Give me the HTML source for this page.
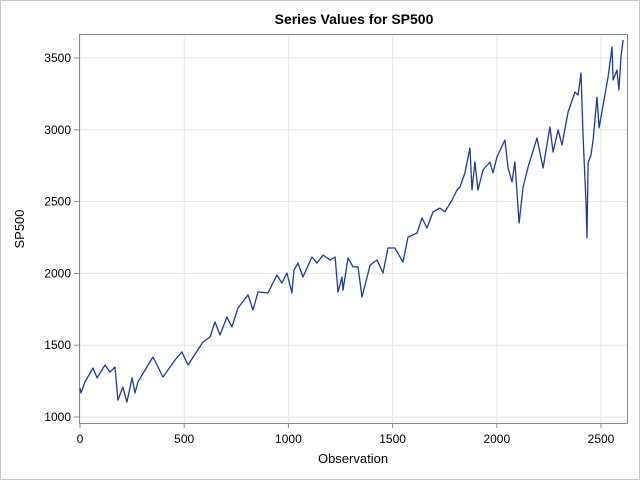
<!DOCTYPE html>
<html><head><meta charset="utf-8"><style>
body{margin:0;background:#fff}
svg{display:block;font-family:"Liberation Sans",sans-serif}
</style></head><body>
<svg id="c" width="640" height="480">
<rect x="0.5" y="0.5" width="639" height="479" fill="#fff" stroke="#c8c8c8"/>
<text x="354" y="24" text-anchor="middle" font-size="14" font-weight="bold" fill="#000">Series Values for SP500</text>
<g id="grid"></g>
<rect x="79.5" y="34.5" width="548" height="389" fill="none" stroke="#888"/>
<g id="axes"></g>
<path id="line" fill="none" stroke="#1a3d9c" stroke-width="1.3" stroke-linejoin="round"/>
<text x="353" y="463" text-anchor="middle" font-size="13" fill="#000">Observation</text>
<text transform="translate(24,229) rotate(-90)" text-anchor="middle" font-size="13" fill="#000">SP500</text>
</svg>
<script>
const obs=[0,5,24,62,82,120,144,168,182,206,225,250,264,278,350,370,398,456,489,518,590,624,648,672,705,729,758,806,830,854,902,945,969,993,1017,1027,1046,1070,1113,1137,1166,1200,1224,1238,1257,1262,1286,1310,1334,1353,1392,1425,1454,1478,1511,1550,1574,1617,1641,1665,1694,1727,1751,1785,1809,1823,1847,1871,1881,1895,1910,1934,1967,1982,2001,2039,2054,2073,2087,2107,2126,2150,2193,2222,2255,2270,2294,2313,2342,2375,2390,2404,2414,2428,2433,2438,2452,2462,2481,2491,2510,2534,2553,2558,2577,2586,2596,2606];
const sp500=[1200,1167,1244,1341,1272,1362,1313,1348,1118,1209,1104,1272,1167,1244,1418,1362,1278,1397,1453,1362,1522,1557,1662,1571,1696,1627,1759,1850,1745,1871,1864,1989,1933,2003,1864,2024,2072,1975,2114,2072,2128,2093,2114,1870,1975,1884,2107,2045,2045,1836,2058,2093,2003,2177,2177,2079,2253,2281,2386,2316,2428,2455,2428,2511,2581,2602,2699,2873,2581,2776,2581,2720,2776,2699,2811,2929,2734,2637,2776,2351,2602,2741,2943,2734,3020,2845,2999,2894,3124,3263,3242,3396,2950,2490,2247,2769,2825,2929,3228,3013,3173,3368,3577,3347,3416,3277,3507,3625];
const xTicks=[0,500,1000,1500,2000,2500];
const yTicks=[1000,1500,2000,2500,3000,3500];
const X=v=>80+v*0.2084;
const Y=v=>417-(v-1000)*71.8/500;
const ns="http://www.w3.org/2000/svg";
const grid=document.getElementById('grid'),axes=document.getElementById('axes');
function mk(tag,attrs,parent,txt){const e=document.createElementNS(ns,tag);for(const k in attrs)e.setAttribute(k,attrs[k]);if(txt!==undefined)e.textContent=txt;parent.appendChild(e);return e;}
xTicks.forEach(t=>{
  const g=mk('line',{x1:X(t),x2:X(t),y1:35,y2:423,stroke:'#e6e6e6'},grid);
  
  
  const tk=mk('line',{x1:X(t),x2:X(t),y1:423,y2:428,stroke:'#888'},axes);
  
  
  const l=mk('text',{x:X(t),y:443,'text-anchor':'middle','font-size':12,fill:'#000'},axes,t);
  
  
});
yTicks.forEach(t=>{
  const g=mk('line',{x1:80,x2:628,y1:Y(t),y2:Y(t),stroke:'#e6e6e6'},grid);
  
  
  const tk=mk('line',{x1:74,x2:79,y1:Y(t),y2:Y(t),stroke:'#888'},axes);
  
  
  const l=mk('text',{x:71,y:Y(t)+4,'text-anchor':'end','font-size':12,fill:'#000'},axes,t);
  
  
});
document.getElementById('line').setAttribute('d',obs.map((o,i)=>(i?'L':'M')+X(o).toFixed(1)+','+Y(sp500[i]).toFixed(1)).join(''));
</script>
</body></html>
